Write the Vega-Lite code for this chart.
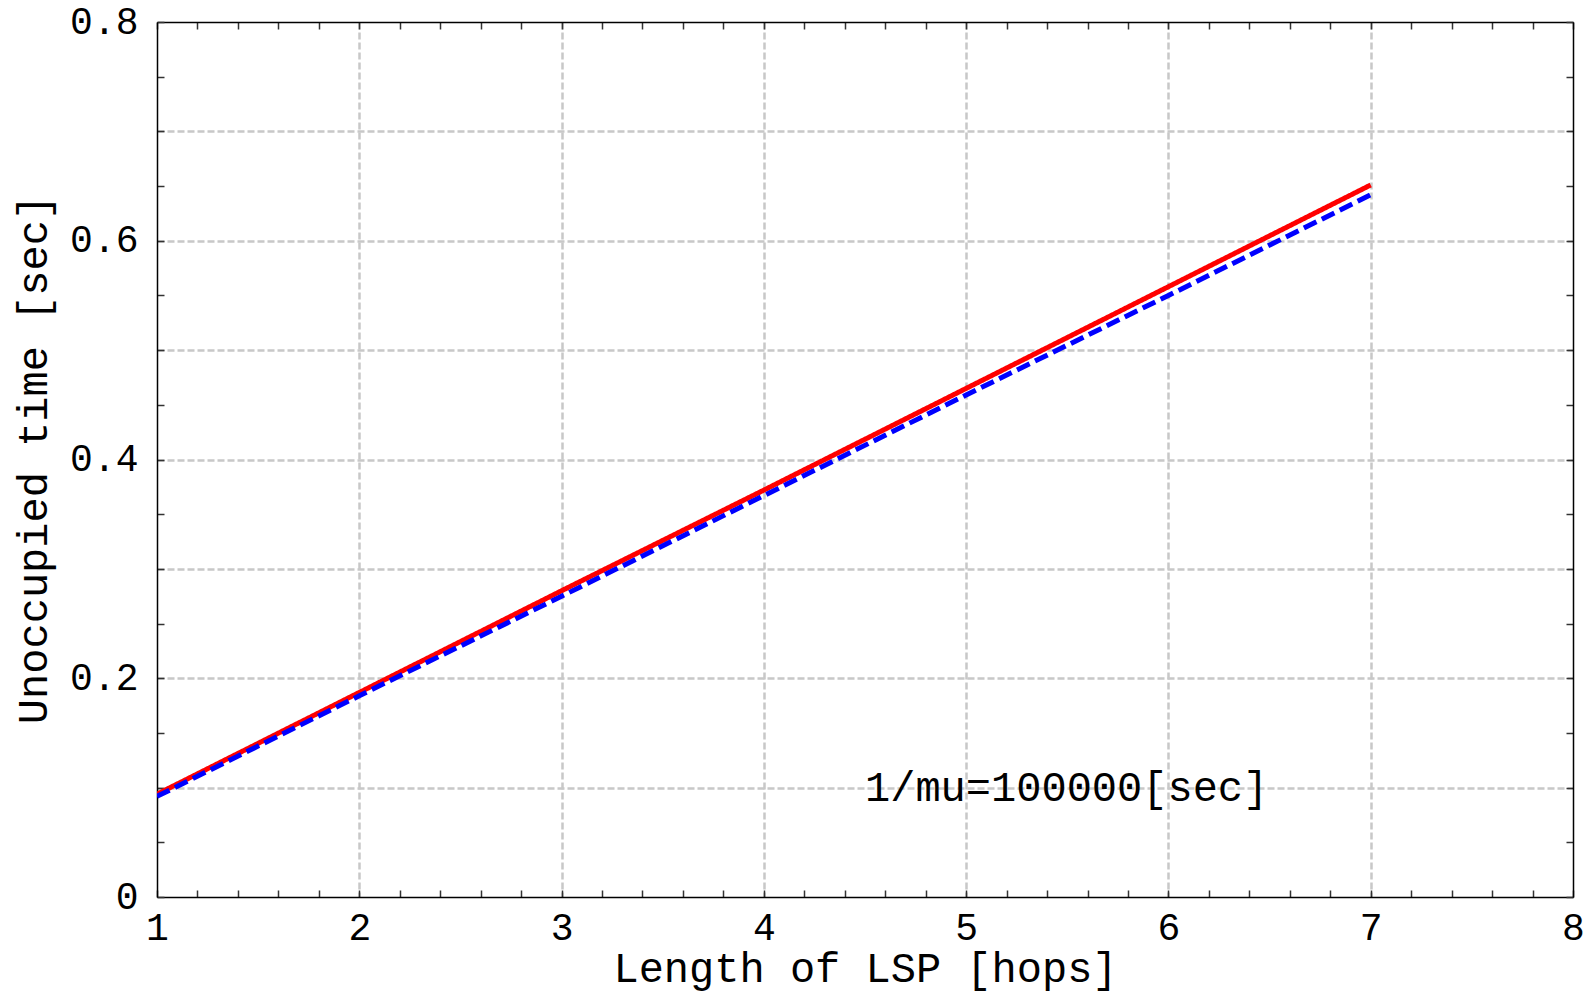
{
  "$schema": "https://vega.github.io/schema/vega-lite/v6.json",
  "width": 1416,
  "height": 875,
  "padding": {"left": 157, "top": 22, "right": 20, "bottom": 96},
  "autosize": {"type": "none"},
  "background": "white",
  "config": {
    "view": {"stroke": null},
    "font": "Liberation Mono",
    "axis": {
      "labelFont": "Liberation Mono",
      "titleFont": "Liberation Mono",
      "labelFontSize": 38,
      "titleFontSize": 42,
      "titleFontWeight": "normal",
      "labelColor": "black",
      "titleColor": "black",
      "domainColor": "black",
      "domainWidth": 1.5,
      "tickColor": "#333333",
      "tickWidth": 1.5,
      "tickSize": -7,
      "labelOverlap": false,
      "labelFlush": false,
      "gridColor": "#c8c8c8",
      "gridWidth": 2.5,
      "gridDash": [7, 3]
    }
  },
  "datasets": {
    "lines": [
      {"hops": 1, "time": 0.094, "series": "A"},
      {"hops": 2, "time": 0.187, "series": "A"},
      {"hops": 3, "time": 0.280, "series": "A"},
      {"hops": 4, "time": 0.372, "series": "A"},
      {"hops": 5, "time": 0.465, "series": "A"},
      {"hops": 6, "time": 0.558, "series": "A"},
      {"hops": 7, "time": 0.651, "series": "A"},
      {"hops": 1, "time": 0.092, "series": "B"},
      {"hops": 2, "time": 0.184, "series": "B"},
      {"hops": 3, "time": 0.275, "series": "B"},
      {"hops": 4, "time": 0.367, "series": "B"},
      {"hops": 5, "time": 0.459, "series": "B"},
      {"hops": 6, "time": 0.550, "series": "B"},
      {"hops": 7, "time": 0.642, "series": "B"}
    ],
    "note": [{"hops": 4.5, "time": 0.1, "label": "1/mu=100000[sec]"}]
  },
  "layer": [
    {
      "data": {"name": "lines"},
      "mark": {"type": "line", "strokeWidth": 5, "clip": true},
      "encoding": {
        "x": {
          "field": "hops", "type": "quantitative",
          "scale": {"domain": [1, 8], "nice": false, "zero": false},
          "axis": {
            "orient": "bottom",
            "title": "Length of LSP [hops]",
            "titlePadding": 1,
            "values": [1,1.2,1.4,1.6,1.8,2,2.2,2.4,2.6,2.8,3,3.2,3.4,3.6,3.8,4,4.2,4.4,4.6,4.8,5,5.2,5.4,5.6,5.8,6,6.2,6.4,6.6,6.8,7,7.2,7.4,7.6,7.8,8],
            "labelExpr": "abs(datum.value - round(datum.value)) < 1e-6 ? format(datum.value, 'd') : ''",
            "labelPadding": 19,
            "grid": true,
            "gridOpacity": {"condition": {"test": "abs(datum.value - round(datum.value)) < 1e-6 && datum.value > 1 && datum.value < 8", "value": 1}, "value": 0}
          }
        },
        "y": {
          "field": "time", "type": "quantitative",
          "scale": {"domain": [0, 0.8], "nice": false, "zero": false},
          "axis": {
            "orient": "left",
            "title": "Unoccupied time [sec]",
            "titleX": -124,
            "titleY": 437,
            "titleAngle": -90,
            "titleAlign": "center",
            "titleBaseline": "middle",
            "values": [0,0.05,0.1,0.15,0.2,0.25,0.3,0.35,0.4,0.45,0.5,0.55,0.6,0.65,0.7,0.75,0.8],
            "labelExpr": "abs(datum.value*5 - round(datum.value*5)) < 1e-6 ? format(datum.value, '~g') : ''",
            "labelPadding": 26,
            "grid": true,
            "gridOpacity": {"condition": {"test": "abs(datum.value*10 - round(datum.value*10)) < 1e-6 && datum.value > 0 && datum.value < 0.8", "value": 1}, "value": 0}
          }
        },
        "color": {
          "field": "series", "type": "nominal",
          "scale": {"domain": ["A", "B"], "range": ["#ff0000", "#0000ff"]},
          "legend": null
        },
        "strokeDash": {
          "field": "series", "type": "nominal",
          "scale": {"domain": ["A", "B"], "range": [[1, 0], [14, 6]]},
          "legend": null
        }
      }
    },
    {
      "data": {"name": "note"},
      "mark": {"type": "text", "align": "left", "baseline": "middle", "font": "Liberation Mono", "fontSize": 42, "color": "black"},
      "encoding": {
        "x": {
          "field": "hops", "type": "quantitative",
          "axis": {
            "orient": "top", "title": null, "labels": false, "grid": false,
            "values": [1,1.2,1.4,1.6,1.8,2,2.2,2.4,2.6,2.8,3,3.2,3.4,3.6,3.8,4,4.2,4.4,4.6,4.8,5,5.2,5.4,5.6,5.8,6,6.2,6.4,6.6,6.8,7,7.2,7.4,7.6,7.8,8]
          }
        },
        "y": {
          "field": "time", "type": "quantitative",
          "axis": {
            "orient": "right", "title": null, "labels": false, "grid": false,
            "values": [0,0.05,0.1,0.15,0.2,0.25,0.3,0.35,0.4,0.45,0.5,0.55,0.6,0.65,0.7,0.75,0.8]
          }
        },
        "text": {"field": "label"}
      }
    }
  ],
  "resolve": {"axis": {"x": "independent", "y": "independent"}}
}
